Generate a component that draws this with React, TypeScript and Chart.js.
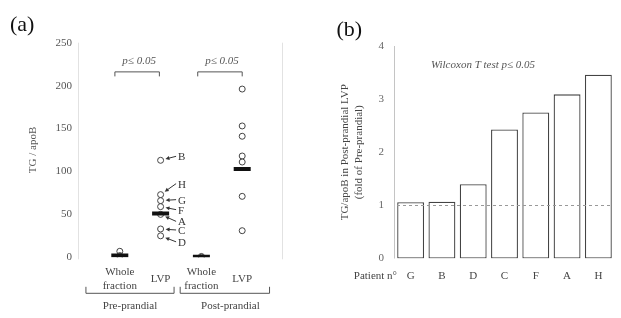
import React, { useEffect, useRef } from 'react';
import { Chart, registerables } from 'chart.js';
Chart.register(...registerables);

const FONT = "'Liberation Serif', 'Times New Roman', serif";

// ---------- Panel (a) data ----------
const groupLabels = [['Whole', 'fraction'], ['LVP'], ['Whole', 'fraction'], ['LVP']];
const periodLabels = ['Pre-prandial', 'Post-prandial'];
const yTicksA = [0, 50, 100, 150, 200, 250];
const preWhole = [7, 2, 1];
const preLVP = [113, 73, 66, 59, 50, 33, 25];
const preLVPPatients = ['B', 'H', 'G', 'F', 'A', 'C', 'D'];
const postWhole = [1, 0];
const postLVP = [196, 153, 141, 118, 111, 71, 31];
const groupCentral = [2, 51, 0.5, 103];
const significance = ['p\u2264 0.05', 'p\u2264 0.05'];

// ---------- Panel (b) data ----------
const patients = ['G', 'B', 'D', 'C', 'F', 'A', 'H'];
const foldChange = [1.06, 1.07, 1.4, 2.43, 2.75, 3.09, 3.46];
const yTicksB = [0, 1, 2, 3, 4];
const referenceFold = 1;
const testLabel = 'Wilcoxon T test p\u2264 0.05';
const xAxisLead = 'Patient n\u00b0';

// layout offsets (pixels) for the patient letters next to the LVP points
const letterDy = [-3, -10, 0, 4, 8, 2, 7];

const panelAPlugin = {
  id: 'panelA',
  afterDraw(chart: any) {
    const { ctx, chartArea: ca, scales } = chart;
    const xs = scales.x;
    const ys = scales.y;
    ctx.save();
    // faint frame lines
    ctx.strokeStyle = '#e2e2e2';
    ctx.lineWidth = 1;
    [ca.left, ca.right].forEach((px: number) => {
      ctx.beginPath();
      ctx.moveTo(Math.round(px) - 0.5, ca.top);
      ctx.lineTo(Math.round(px) - 0.5, ca.bottom + 2);
      ctx.stroke();
    });
    // panel letter
    ctx.fillStyle = '#111';
    ctx.font = `22px ${FONT}`;
    ctx.textAlign = 'left';
    ctx.textBaseline = 'alphabetic';
    ctx.fillText('(a)', 10, 30.5);

    // category labels
    ctx.font = `11px ${FONT}`;
    ctx.fillStyle = '#444';
    ctx.textAlign = 'center';
    ctx.textBaseline = 'middle';
    groupLabels.forEach((lines, i) => {
      const px = xs.getPixelForValue(i + 1);
      const cy = ca.bottom + 22;
      lines.forEach((t, j) => ctx.fillText(t, px, cy + (j - (lines.length - 1) / 2) * 13.4));
    });

    // period brackets
    ctx.strokeStyle = '#555';
    ctx.lineWidth = 1;
    const periodSpans = [[0.17, 2.33], [2.48, 4.67]];
    const periodCenters = [1.25, 3.71];
    periodSpans.forEach(([a, b], i) => {
      const x1 = xs.getPixelForValue(a);
      const x2 = xs.getPixelForValue(b);
      const yl = ca.bottom + 36;
      ctx.beginPath();
      ctx.moveTo(x1, yl - 6.5);
      ctx.lineTo(x1, yl);
      ctx.lineTo(x2, yl);
      ctx.lineTo(x2, yl - 6.5);
      ctx.stroke();
      ctx.fillText(periodLabels[i], xs.getPixelForValue(periodCenters[i]), ca.bottom + 48.7);
    });

    // significance brackets
    const sigSpans = [[0.88, 1.97], [2.91, 4.0]];
    const by = ys.getPixelForValue(216);
    ctx.font = `italic 11px ${FONT}`;
    ctx.textBaseline = 'alphabetic';
    sigSpans.forEach(([a, b], i) => {
      const x1 = xs.getPixelForValue(a);
      const x2 = xs.getPixelForValue(b);
      ctx.beginPath();
      ctx.moveTo(x1, by + 4.5);
      ctx.lineTo(x1, by);
      ctx.lineTo(x2, by);
      ctx.lineTo(x2, by + 4.5);
      ctx.stroke();
      ctx.fillStyle = '#555';
      ctx.fillText(significance[i], (x1 + x2) / 2 + 2, by - 8);
    });

    // patient letters with arrows
    ctx.font = `11px ${FONT}`;
    ctx.textAlign = 'left';
    ctx.textBaseline = 'middle';
    ctx.fillStyle = '#333';
    ctx.strokeStyle = '#333';
    preLVP.forEach((v, i) => {
      const px = xs.getPixelForValue(2);
      const py = ys.getPixelForValue(v);
      const lx = px + 17.5;
      const ly = py + letterDy[i];
      ctx.fillText(preLVPPatients[i], lx, ly);
      const sx = lx - 2;
      const sy = ly - 1;
      const dx = sx - px;
      const dy = sy - py;
      const len = Math.hypot(dx, dy);
      const ux = dx / len;
      const uy = dy / len;
      const ex = px + ux * 5;
      const ey = py + uy * 5;
      ctx.beginPath();
      ctx.moveTo(sx, sy);
      ctx.lineTo(ex + ux * 3, ey + uy * 3);
      ctx.stroke();
      // arrowhead
      ctx.beginPath();
      ctx.moveTo(ex, ey);
      ctx.lineTo(ex + ux * 4 - uy * 2, ey + uy * 4 + ux * 2);
      ctx.lineTo(ex + ux * 4 + uy * 2, ey + uy * 4 - ux * 2);
      ctx.closePath();
      ctx.fill();
    });
    ctx.restore();
  },
};

const panelBPlugin = {
  id: 'panelB',
  afterDatasetsDraw(chart: any) {
    const { ctx, chartArea: ca, scales } = chart;
    const ys = scales.y;
    ctx.save();
    const yy = ys.getPixelForValue(referenceFold);
    ctx.strokeStyle = '#999';
    ctx.lineWidth = 1;
    ctx.setLineDash([3, 3]);
    ctx.beginPath();
    ctx.moveTo(ca.left + 2, Math.round(yy) + 0.5);
    ctx.lineTo(ca.right - 4, Math.round(yy) + 0.5);
    ctx.stroke();
    ctx.restore();
  },
  afterDraw(chart: any) {
    const { ctx, chartArea: ca, scales } = chart;
    ctx.save();
    ctx.strokeStyle = '#c4c4c4';
    ctx.lineWidth = 1;
    ctx.beginPath();
    ctx.moveTo(Math.round(ca.left) - 0.5, ca.top);
    ctx.lineTo(Math.round(ca.left) - 0.5, ca.bottom);
    ctx.stroke();

    ctx.fillStyle = '#111';
    ctx.font = `22px ${FONT}`;
    ctx.textAlign = 'left';
    ctx.textBaseline = 'alphabetic';
    ctx.fillText('(b)', 26.5, 36);

    ctx.font = `italic 11px ${FONT}`;
    ctx.fillStyle = '#555';
    ctx.textAlign = 'center';
    ctx.textBaseline = 'middle';
    ctx.fillText(testLabel, ca.left + 88, 65);

    ctx.font = `11px ${FONT}`;
    ctx.fillStyle = '#444';
    ctx.textAlign = 'right';
    ctx.fillText(xAxisLead, ca.left + 2, ca.bottom + 17.5);
    ctx.restore();
  },
};

export default function App() {
  const aRef = useRef<HTMLCanvasElement>(null);
  const bRef = useRef<HTMLCanvasElement>(null);

  useEffect(() => {
    const points = [
      ...preWhole.map((y) => ({ x: 1, y })),
      ...preLVP.map((y) => ({ x: 2, y })),
      ...postWhole.map((y) => ({ x: 3, y })),
      ...postLVP.map((y) => ({ x: 4, y })),
    ];
    const chartA = new Chart(aRef.current as HTMLCanvasElement, {
      type: 'scatter',
      data: {
        datasets: [
          {
            label: 'central',
            data: groupCentral.map((v, i) => ({ x: i + 1, y: v })),
            pointStyle: 'line',
            radius: 8.5,
            borderWidth: 4,
            borderColor: '#111',
            backgroundColor: '#111',
            order: 0,
          } as any,
          {
            label: 'values',
            data: points,
            pointStyle: 'circle',
            radius: 3,
            borderWidth: 1,
            borderColor: '#444',
            backgroundColor: '#fff',
            order: 1,
          } as any,
        ],
      },
      options: {
        animation: false,
        responsive: false,
        events: [],
        layout: { padding: { top: 42.7, bottom: 60.7, right: 27, left: 0 } },
        plugins: { legend: { display: false }, tooltip: { enabled: false } },
        scales: {
          x: { type: 'linear', display: false, min: 0, max: 5 },
          y: {
            min: 0,
            max: 250,
            afterBuildTicks: (s: any) => {
              s.ticks = yTicksA.map((v) => ({ value: v }));
            },
            afterFit: (s: any) => {
              s.width = 79;
            },
            grid: { display: false, drawTicks: false },
            border: { display: false },
            ticks: { padding: 7, color: '#555', font: { family: FONT, size: 11 } },
            title: {
              display: true,
              text: 'TG / apoB',
              color: '#555',
              font: { family: FONT, size: 11 },
              padding: { top: 26.4, bottom: 0 },
            },
          },
        },
      } as any,
      plugins: [panelAPlugin],
    });

    const chartB = new Chart(bRef.current as HTMLCanvasElement, {
      type: 'bar',
      data: {
        labels: patients,
        datasets: [
          {
            data: foldChange,
            backgroundColor: '#fff',
            borderColor: '#444',
            borderWidth: 1.3,
            borderSkipped: false,
            barPercentage: 0.86,
            categoryPercentage: 1,
          } as any,
        ],
      },
      options: {
        animation: false,
        responsive: false,
        events: [],
        layout: { padding: { top: 46, right: 7, left: 0, bottom: 0 } },
        plugins: { legend: { display: false }, tooltip: { enabled: false } },
        scales: {
          x: {
            grid: { display: false, drawTicks: false },
            border: { display: false },
            ticks: { padding: 11, color: '#444', font: { family: FONT, size: 11 } },
            afterFit: (s: any) => {
              s.height = 59.5;
            },
          },
          y: {
            min: 0,
            max: 4,
            afterBuildTicks: (s: any) => {
              s.ticks = yTicksB.map((v) => ({ value: v }));
            },
            afterFit: (s: any) => {
              s.width = 85;
            },
            grid: { display: false, drawTicks: false },
            border: { display: false },
            ticks: { padding: 11, color: '#666', font: { family: FONT, size: 11 } },
            title: {
              display: true,
              text: ['TG/apoB in Post-prandial LVP', '(fold of Pre-prandial)'],
              color: '#444',
              font: { family: FONT, size: 11, lineHeight: 1.27 },
              padding: { top: 28, bottom: 0 },
            },
          },
        },
      } as any,
      plugins: [panelBPlugin],
    });

    return () => {
      chartA.destroy();
      chartB.destroy();
    };
  }, []);

  return (
    <div style={{ position: 'fixed', left: 0, top: 0, width: 621, height: 318, background: '#fff' }}>
      <canvas ref={aRef} width={310} height={318} style={{ position: 'absolute', left: 0, top: 0 }} />
      <canvas ref={bRef} width={311} height={318} style={{ position: 'absolute', left: 310, top: 0 }} />
    </div>
  );
}
